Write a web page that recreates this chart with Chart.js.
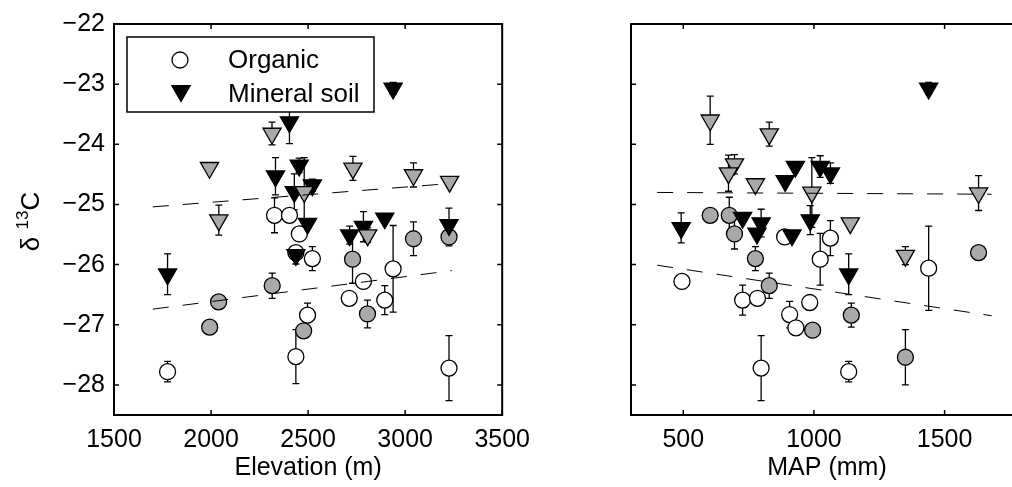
<!DOCTYPE html>
<html>
<head>
<meta charset="utf-8">
<script src="https://cdn.jsdelivr.net/npm/chart.js@4.4.1/dist/chart.umd.min.js"></script>
<style>
body { margin: 0; width: 1012px; height: 487px; overflow: hidden; background: #fff; position: relative; }
canvas { position: absolute; top: 0; }
#elev { left: 0; }
#map { left: 560px; }
</style>
</head>
<body>
<canvas id="elev" width="540" height="487"></canvas>
<canvas id="map" width="480" height="487"></canvas>
<script>
// tick labels
const yTicks = [-28, -27, -26, -25, -24, -23, -22];
const elevTicks = [1500, 2000, 2500, 3000, 3500];
const mapTicks = [500, 1000, 1500];
const legendLabels = ['Organic', 'Mineral soil'];

// left panel: elevation (m)
const orgWhiteElevX = [1776, 2327, 2404, 2455, 2522, 2497, 2437, 2712, 2785, 2895, 2938, 3226, 2437];
const orgWhiteElevY = [-27.78, -25.18, -25.18, -25.49, -25.9, -26.84, -27.53, -26.56, -26.28, -26.59, -26.07, -27.72, -25.8];
const orgWhiteElevE = [0.17, 0.29, 0, 0, 0.2, 0.2, 0.45, 0, 0, 0.24, 0.72, 0.54, 0];
const orgGreyElevX = [1993, 2039, 2315, 2477, 2729, 2806, 3043, 3226];
const orgGreyElevY = [-27.04, -26.62, -26.35, -27.1, -25.91, -26.82, -25.57, -25.54];
const orgGreyElevE = [0, 0, 0.21, 0, 0.4, 0.23, 0.28, 0.15];
const minBlackElevX = [1776, 2404, 2332, 2454, 2429, 2497, 2522, 2938, 2714, 2785, 2895, 3226, 2437];
const minBlackElevY = [-26.16, -23.63, -24.53, -24.35, -24.79, -25.32, -24.68, -23.07, -25.51, -25.37, -25.23, -25.34, -25.84];
const minBlackElevE = [0.34, 0.36, 0.31, 0.12, 0.3, 0, 0.1, 0.1, 0.15, 0.25, 0, 0.28, 0.15];
const minGreyElevX = [2314, 1992, 2480, 2040, 2731, 3043, 3229, 2807];
const minGreyElevY = [-23.82, -24.39, -24.79, -25.26, -24.4, -24.51, -24.62, -25.51];
const minGreyElevE = [0.19, 0, 0.57, 0.25, 0.2, 0.2, 0, 0.12];
const fitElevX = [1700, 3240];
const fitMinElevY = [-25.04, -24.65];
const fitOrgElevY = [-26.74, -26.1];

// right panel: MAP (mm)
const orgWhiteMapX = [888, 1063, 1024, 1439, 1133, 984, 495, 727, 784, 907, 931, 798];
const orgWhiteMapY = [-25.54, -25.56, -25.91, -26.06, -27.78, -26.63, -26.28, -26.59, -26.56, -26.83, -27.05, -27.72];
const orgWhiteMapE = [0, 0.29, 0.43, 0.7, 0.17, 0, 0, 0.25, 0, 0.22, 0, 0.54];
const orgGreyMapX = [603, 676, 696, 776, 829, 995, 1143, 1350, 1630];
const orgGreyMapY = [-25.18, -25.18, -25.49, -25.9, -26.35, -27.09, -26.84, -27.54, -25.8];
const orgGreyMapE = [0, 0.3, 0.25, 0.2, 0.21, 0, 0.2, 0.46, 0];
const minBlackMapX = [492, 727, 798, 782, 986, 916, 890, 929, 1024, 1063, 1133, 1439];
const minBlackMapY = [-25.39, -25.22, -25.31, -25.48, -25.26, -25.51, -24.61, -24.37, -24.37, -24.48, -26.16, -23.07];
const minBlackMapE = [0.25, 0, 0.23, 0, 0.24, 0, 0, 0, 0.18, 0.17, 0.34, 0.1];
const minGreyMapX = [603, 829, 696, 673, 776, 992, 1139, 1350, 1630];
const minGreyMapY = [-23.6, -23.83, -24.33, -24.48, -24.66, -24.8, -25.31, -25.85, -24.81];
const minGreyMapE = [0.4, 0.2, 0.16, 0.3, 0.08, 0.58, 0, 0.15, 0.29];
const fitMapX = [400, 1680];
const fitMinMapY = [-24.8, -24.83];
const fitOrgMapY = [-26.01, -26.85];

const FONT = '"Liberation Sans", Arial, Helvetica, sans-serif';
const GREY = '#a9a9a9';
Chart.defaults.font.family = FONT;
Chart.defaults.font.size = 25;
Chart.defaults.color = '#000';

const pts = (xs, ys) => xs.map((x, i) => ({ x: x, y: ys[i] }));
const minus = v => (v < 0 ? '\u2212' : '') + Math.abs(v);

const errorBars = {
    id: 'errorBars',
    beforeDatasetsDraw(chart) {
        const ctx = chart.ctx, xs = chart.scales.x, ys = chart.scales.y, ca = chart.chartArea;
        ctx.save();
        ctx.beginPath();
        ctx.rect(ca.left, ca.top, ca.right - ca.left, ca.bottom - ca.top);
        ctx.clip();
        ctx.strokeStyle = '#000';
        ctx.lineWidth = 1.3;
        chart.data.datasets.forEach(ds => {
            if (!ds.err) return;
            ds.data.forEach((p, i) => {
                const e = ds.err[i];
                if (!e) return;
                const x = xs.getPixelForValue(p.x);
                const y1 = ys.getPixelForValue(p.y + e);
                const y2 = ys.getPixelForValue(p.y - e);
                ctx.beginPath();
                ctx.moveTo(x, y1); ctx.lineTo(x, y2);
                ctx.moveTo(x - 3.5, y1); ctx.lineTo(x + 3.5, y1);
                ctx.moveTo(x - 3.5, y2); ctx.lineTo(x + 3.5, y2);
                ctx.stroke();
            });
        });
        ctx.restore();
    }
};

// box round the axes with inward ticks, like matlab
const frame = {
    id: 'frame',
    afterDraw(chart) {
        const ctx = chart.ctx, ca = chart.chartArea, sx = chart.scales.x, sy = chart.scales.y;
        ctx.save();
        ctx.strokeStyle = '#000';
        ctx.lineWidth = 1.5;
        ctx.beginPath();
        sx.ticks.forEach(t => {
            const x = sx.getPixelForValue(t.value);
            ctx.moveTo(x, ca.bottom); ctx.lineTo(x, ca.bottom - 5);
            ctx.moveTo(x, ca.top); ctx.lineTo(x, ca.top + 5);
        });
        sy.ticks.forEach(t => {
            const y = sy.getPixelForValue(t.value);
            ctx.moveTo(ca.left, y); ctx.lineTo(ca.left + 5, y);
            ctx.moveTo(ca.right, y); ctx.lineTo(ca.right - 5, y);
        });
        ctx.stroke();
        ctx.lineWidth = 2;
        ctx.strokeRect(ca.left, ca.top, ca.right - ca.left, ca.bottom - ca.top);
        ctx.restore();
    }
};

const drawTri = (ctx, x, y, r, fill) => {
    ctx.beginPath();
    ctx.moveTo(x, y + r);
    ctx.lineTo(x - r * 0.866, y - r / 2);
    ctx.lineTo(x + r * 0.866, y - r / 2);
    ctx.closePath();
    ctx.fillStyle = fill;
    ctx.fill();
    ctx.stroke();
};

const legendBox = {
    id: 'legendBox',
    afterDraw(chart) {
        const ctx = chart.ctx, ca = chart.chartArea;
        const x0 = ca.left + 13, y0 = ca.top + 13, w = 247, h = 75;
        ctx.save();
        ctx.fillStyle = '#fff';
        ctx.fillRect(x0, y0, w, h);
        ctx.strokeStyle = '#000';
        ctx.lineWidth = 1.5;
        ctx.strokeRect(x0, y0, w, h);
        ctx.lineWidth = 1.3;
        ctx.beginPath();
        ctx.arc(x0 + 53, y0 + 23, 8, 0, Math.PI * 2);
        ctx.fillStyle = '#fff';
        ctx.fill();
        ctx.stroke();
        drawTri(ctx, x0 + 54, y0 + 54, 10.5, '#000');
        ctx.fillStyle = '#000';
        ctx.font = '26px ' + FONT;
        ctx.textAlign = 'left';
        ctx.textBaseline = 'middle';
        ctx.fillText(legendLabels[0], x0 + 101, y0 + 24);
        ctx.fillText(legendLabels[1], x0 + 101, y0 + 58);
        ctx.restore();
    }
};

// delta 13C label with the superscript
const yTitle = {
    id: 'yTitle',
    afterDraw(chart) {
        const ctx = chart.ctx, ca = chart.chartArea;
        const big = '26px ' + FONT, small = '17px ' + FONT;
        ctx.save();
        ctx.translate(30, (ca.top + ca.bottom) / 2 + 2);
        ctx.rotate(-Math.PI / 2);
        ctx.fillStyle = '#000';
        ctx.textBaseline = 'alphabetic';
        ctx.font = big;
        const w1 = ctx.measureText('\u03b4 ').width, w3 = ctx.measureText('C').width;
        ctx.font = small;
        const w2 = ctx.measureText('13').width;
        let x = -(w1 + w2 + w3) / 2;
        ctx.font = big;
        ctx.fillText('\u03b4 ', x, 9); x += w1;
        ctx.font = small;
        ctx.fillText('13', x, -2); x += w2;
        ctx.font = big;
        ctx.fillText('C', x, 9);
        ctx.restore();
    }
};

const fitLine = (xs, ys) => ({
    data: pts(xs, ys), showLine: true, borderColor: '#000', borderWidth: 1,
    borderDash: [16, 14], pointRadius: 0, fill: false
});
const markers = (xs, ys, es, style, fill, r) => ({
    data: pts(xs, ys), err: es, pointStyle: style, rotation: style == 'triangle' ? 180 : 0,
    pointRadius: r, pointHoverRadius: r, backgroundColor: fill, borderColor: '#000', borderWidth: 1.3
});

const makePanel = (id, sets, xMin, xMax, xTicks, xTitle, showY, padRight, yWidth, extra) => {
    return new Chart(document.getElementById(id).getContext('2d'), {
        type: 'scatter',
        data: { datasets: sets },
        options: {
            responsive: false,
            animation: false,
            devicePixelRatio: 1,
            layout: { padding: { top: 24, right: padRight, left: 0, bottom: 0 }, autoPadding: false },
            plugins: { legend: { display: false }, tooltip: { enabled: false } },
            scales: {
                x: {
                    type: 'linear', min: xMin, max: xMax,
                    afterBuildTicks: s => { s.ticks = xTicks.map(v => ({ value: v })); },
                    afterFit: s => { s.height = 72; },
                    grid: { display: false, drawTicks: false },
                    border: { display: false },
                    ticks: { padding: 10, maxRotation: 0, autoSkip: false, callback: v => String(v) },
                    title: { display: true, text: xTitle, padding: { top: 0, bottom: 4 } }
                },
                y: {
                    min: -28.5, max: -22,
                    afterBuildTicks: s => { s.ticks = yTicks.map(v => ({ value: v })); },
                    afterFit: s => { s.width = yWidth; },
                    grid: { display: false, drawTicks: false },
                    border: { display: false },
                    ticks: { display: showY, padding: 9, callback: minus }
                }
            }
        },
        plugins: [errorBars, frame].concat(extra)
    });
};

makePanel('elev', [
    fitLine(fitElevX, fitMinElevY),
    fitLine(fitElevX, fitOrgElevY),
    markers(minGreyElevX, minGreyElevY, minGreyElevE, 'triangle', GREY, 10.5),
    markers(minBlackElevX, minBlackElevY, minBlackElevE, 'triangle', '#000', 10.5),
    markers(orgGreyElevX, orgGreyElevY, orgGreyElevE, 'circle', GREY, 8),
    markers(orgWhiteElevX, orgWhiteElevY, orgWhiteElevE, 'circle', '#fff', 8)
], 1500, 3500, elevTicks, 'Elevation (m)', true, 33, 114, [legendBox, yTitle]);

makePanel('map', [
    fitLine(fitMapX, fitMinMapY),
    fitLine(fitMapX, fitOrgMapY),
    markers(minGreyMapX, minGreyMapY, minGreyMapE, 'triangle', GREY, 10.5),
    markers(minBlackMapX, minBlackMapY, minBlackMapE, 'triangle', '#000', 10.5),
    markers(orgGreyMapX, orgGreyMapY, orgGreyMapE, 'circle', GREY, 8),
    markers(orgWhiteMapX, orgWhiteMapY, orgWhiteMapE, 'circle', '#fff', 8)
], 300, 1800, mapTicks, 'MAP (mm)', false, 17, 71, []);
</script>
</body>
</html>
